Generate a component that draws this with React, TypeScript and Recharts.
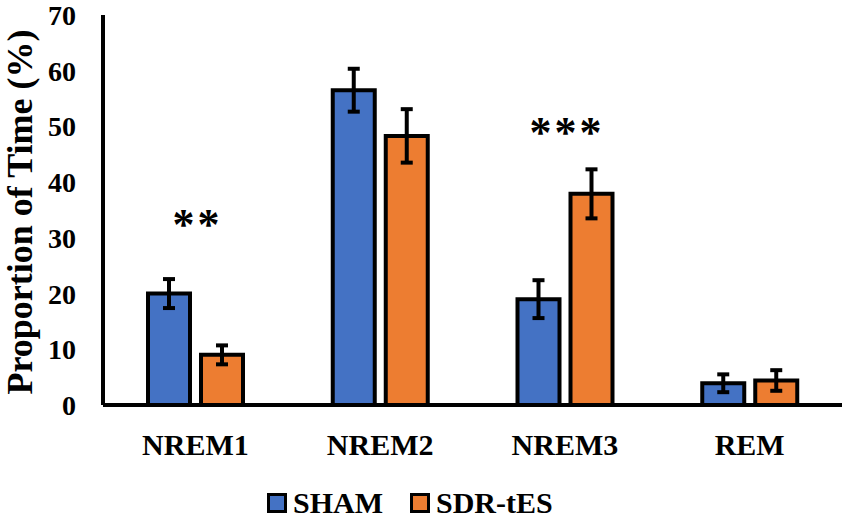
import React from 'react';
import { BarChart, Bar, XAxis, YAxis, ErrorBar, Legend, ReferenceDot } from 'recharts';

const stages = ['NREM1', 'NREM2', 'NREM3', 'REM'];
const shamMean = [20.0, 56.5, 19.0, 3.9];
const shamErr = [2.6, 3.85, 3.4, 1.6];
const sdrMean = [9.0, 48.3, 37.9, 4.4];
const sdrErr = [1.7, 4.8, 4.4, 1.85];
const sigMarks = ['**', '', '***', ''];
const sigHeight = [33.6, 0, 50.1, 0];
const yTicks = [0, 10, 20, 30, 40, 50, 60, 70];

const SERIF = '"Liberation Serif", "Times New Roman", serif';
const BLUE = '#4472C4';
const ORANGE = '#ED7D31';

const data = stages.map((stage, i) => ({
    stage,
    sham: shamMean[i],
    shamErr: shamErr[i],
    sdr: sdrMean[i],
    sdrErr: sdrErr[i],
}));

const XTick = ({ x, y, payload }: any) => (
    <text x={x} y={y + 50} textAnchor="middle" fontFamily={SERIF} fontWeight="bold" fontSize={30} fill="#000">
        {payload.value}
    </text>
);

const YTick = ({ x, y, payload }: any) => (
    <text x={x} y={y + 10} textAnchor="end" fontFamily={SERIF} fontWeight="bold" fontSize={28} fill="#000">
        {payload.value}
    </text>
);

const YLabel = ({ viewBox }: any) => {
    const cx = viewBox.x + 32;
    const cy = viewBox.y + viewBox.height / 2 + 2;
    return (
        <text
            x={cx}
            y={cy}
            transform={`rotate(-90, ${cx}, ${cy})`}
            textAnchor="middle"
            fontFamily={SERIF}
            fontWeight="bold"
            fontSize={36}
            fill="#000"
        >
            Proportion of Time (%)
        </text>
    );
};

const LegendBox = () => {
    const item = (color: string, name: string, first: boolean) => (
        <div style={{ display: 'flex', alignItems: 'center', marginLeft: first ? 0 : 27 }}>
            <div
                style={{
                    width: 20,
                    height: 20,
                    boxSizing: 'border-box',
                    border: '3px solid #000',
                    background: color,
                }}
            />
            <span style={{ marginLeft: 6, fontFamily: SERIF, fontWeight: 'bold', fontSize: 30, lineHeight: '30px' }}>
                {name}
            </span>
        </div>
    );
    return (
        <div style={{ display: 'flex', alignItems: 'center', height: 30, paddingLeft: 267 }}>
            {item(BLUE, 'SHAM', true)}
            {item(ORANGE, 'SDR-tES', false)}
        </div>
    );
};

const Stars = (text: string) => (props: any) => (
    <text
        x={props.cx + 2}
        y={props.cy + 21}
        textAnchor="middle"
        fontFamily={SERIF}
        fontWeight="bold"
        fontSize={44}
        letterSpacing={3}
        fill="#000"
    >
        {text}
    </text>
);

export default function App() {
    return (
        <div>
            <style>{'body{margin:0;}'}</style>
            <BarChart
                width={850}
                height={519}
                data={data}
                margin={{ top: 15, right: 8, left: 0, bottom: 0 }}
                barSize={42}
                barGap={11}
            >
                <XAxis
                    dataKey="stage"
                    height={84}
                    interval={0}
                    tickLine={false}
                    tickSize={0}
                    tickMargin={0}
                    axisLine={{ stroke: '#000', strokeWidth: 4 }}
                    tick={<XTick />}
                />
                <YAxis
                    width={103}
                    domain={[0, 70]}
                    ticks={yTicks}
                    interval={0}
                    tickLine={false}
                    tickSize={0}
                    tickMargin={27}
                    axisLine={{ stroke: '#000', strokeWidth: 4 }}
                    tick={<YTick />}
                    label={<YLabel />}
                />
                <Legend
                    verticalAlign="bottom"
                    height={30}
                    wrapperStyle={{ left: 0, bottom: 1, width: 850 }}
                    content={<LegendBox />}
                />
                <Bar dataKey="sham" name="SHAM" fill={BLUE} stroke="#000" strokeWidth={4} isAnimationActive={false}>
                    <ErrorBar dataKey="shamErr" width={6} strokeWidth={4} stroke="#000" isAnimationActive={false} />
                </Bar>
                <Bar dataKey="sdr" name="SDR-tES" fill={ORANGE} stroke="#000" strokeWidth={4} isAnimationActive={false}>
                    <ErrorBar dataKey="sdrErr" width={6} strokeWidth={4} stroke="#000" isAnimationActive={false} />
                </Bar>
                {stages.map((stage, i) =>
                    sigMarks[i] ? (
                        <ReferenceDot key={stage} x={stage} y={sigHeight[i]} r={0} shape={Stars(sigMarks[i])} />
                    ) : null
                )}
            </BarChart>
        </div>
    );
}
